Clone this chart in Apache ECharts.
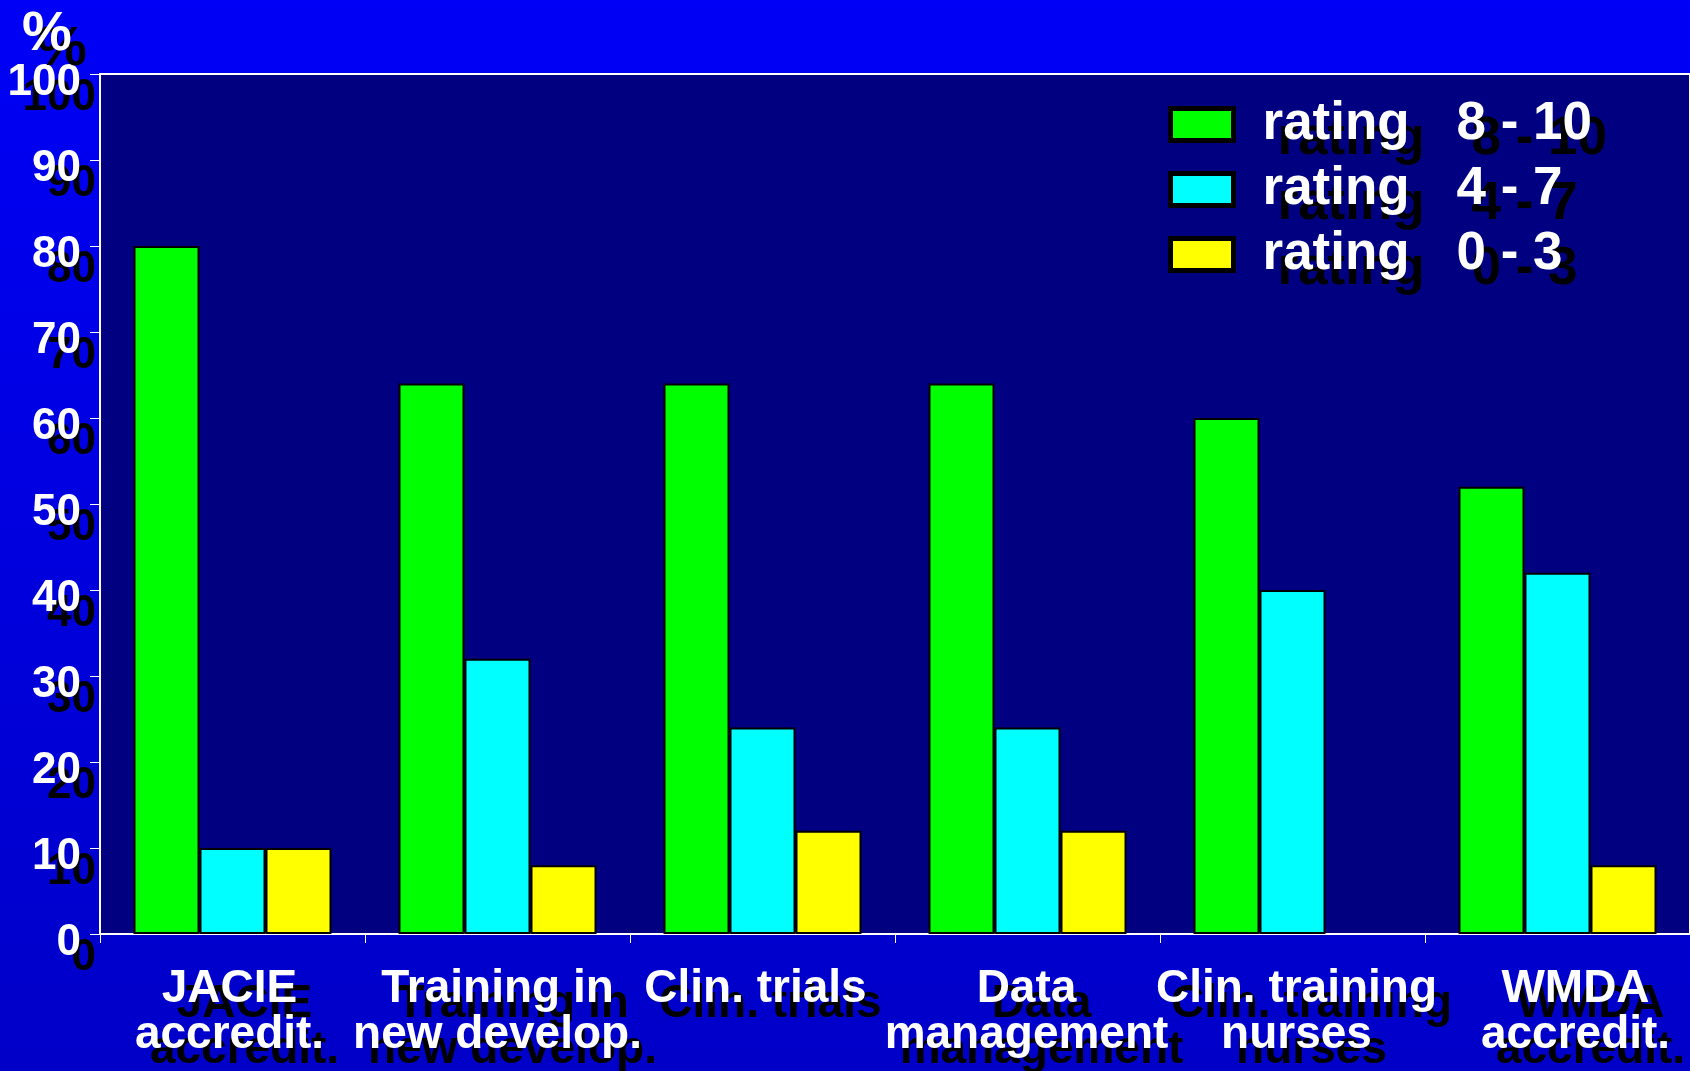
<!DOCTYPE html>
<html>
<head>
<meta charset="utf-8">
<script src="https://cdn.jsdelivr.net/npm/echarts@6/dist/echarts.min.js"></script>
<style>
  html, body { margin: 0; padding: 0; }
  #chart { width: 1690px; height: 1071px; }
</style>
</head>
<body>
<div id="chart"></div>
<script>
const categories = [
  'JACIE\naccredit.',
  'Training in\nnew develop.',
  'Clin. trials',
  'Data\nmanagement',
  'Clin. training\nnurses',
  'WMDA\naccredit.'
];
const ratingRanges = ['8 - 10', '4 - 7', '0 - 3'];
const high = [80, 64, 64, 64, 60, 52];
const mid = [10, 32, 24, 24, 40, 42];
const low = [10, 8, 12, 12, 0, 8];
const yTicks = [0, 100, 10]; // min, max, step

const colors = ['#00ff00', '#00ffff', '#ffff00'];
const font = "'Liberation Sans', Arial, sans-serif";
// hard black drop shadow behind every text (blur must be > 0 for zrender to draw it)
const shadow = {
  textShadowColor: '#000',
  textShadowBlur: 0.01,
  textShadowOffsetX: 15,
  textShadowOffsetY: 15
};
// labels in the slide were placed by hand, a bit off centre
const labelPad = [[0, 6, 0, 0], [0, 0, 0, 0], [0, 14, 0, 0], [0, 2, 0, 0], [0, 0, 0, 8], [0, 0, 0, 36]];

const chart = echarts.init(document.getElementById('chart'));

const makeSeries = (range, values, i) => ({
  name: 'rating ' + range,
  type: 'bar',
  barWidth: 66,
  barGap: '0%',
  itemStyle: { color: colors[i], borderColor: '#000', borderWidth: 2 },
  // empty bar (0) is not drawn in the original
  data: values.map((v) => (v === 0 ? '-' : v))
});

const legendText = { color: '#fff', fontFamily: font, fontWeight: 'bold', fontSize: 53, lineHeight: 40, ...shadow };

chart.setOption({
  backgroundColor: {
    type: 'linear', x: 0, y: 0, x2: 0, y2: 1,
    colorStops: [
      { offset: 0, color: '#0000f6' },
      { offset: 1, color: '#0000c8' }
    ]
  },
  animation: false,
  title: {
    text: '%',
    left: 22,
    top: 7,
    padding: 0,
    textStyle: { color: '#fff', fontFamily: font, fontWeight: 'bold', fontSize: 56, ...shadow }
  },
  legend: {
    orient: 'vertical',
    left: 1168,
    top: 98,
    padding: 0,
    itemWidth: 63,
    itemHeight: 32,
    itemGap: 12,
    icon: 'rect',
    itemStyle: { borderColor: '#000', borderWidth: 5 },
    formatter: (name) => '{a|rating}{b|' + name.replace('rating ', '') + '}',
    textStyle: {
      ...legendText,
      rich: {
        a: { ...legendText, width: 194, padding: [0, 0, 0, 24] },
        b: { ...legendText }
      }
    }
  },
  grid: {
    left: 100,
    right: 0,
    top: 74,
    bottom: 137,
    show: true,
    backgroundColor: '#000080',
    borderColor: '#ffffff',
    borderWidth: 2
  },
  xAxis: {
    type: 'category',
    data: categories.map((c, i) => ({ value: c, textStyle: { padding: labelPad[i] } })),
    axisLine: { lineStyle: { color: '#fff', width: 2 } },
    axisTick: { show: true, length: 9, lineStyle: { color: '#fff', width: 1 } },
    axisLabel: {
      interval: 0,
      hideOverlap: false,
      margin: 32,
      color: '#fff',
      fontFamily: font,
      fontWeight: 'bold',
      fontSize: 46,
      lineHeight: 46,
      ...shadow
    },
    splitLine: { show: false }
  },
  yAxis: {
    type: 'value',
    min: yTicks[0],
    max: yTicks[1],
    interval: yTicks[2],
    axisLine: { show: true, lineStyle: { color: '#fff', width: 2 } },
    axisTick: { show: true, length: 10, lineStyle: { color: '#fff', width: 1 } },
    splitLine: { show: false },
    axisLabel: {
      margin: 19,
      color: '#fff',
      fontFamily: font,
      fontWeight: 'bold',
      fontSize: 44,
      verticalAlign: 'top',
      lineHeight: 18,
      ...shadow
    }
  },
  series: [
    makeSeries(ratingRanges[0], high, 0),
    makeSeries(ratingRanges[1], mid, 1),
    makeSeries(ratingRanges[2], low, 2)
  ]
});
</script>
</body>
</html>
